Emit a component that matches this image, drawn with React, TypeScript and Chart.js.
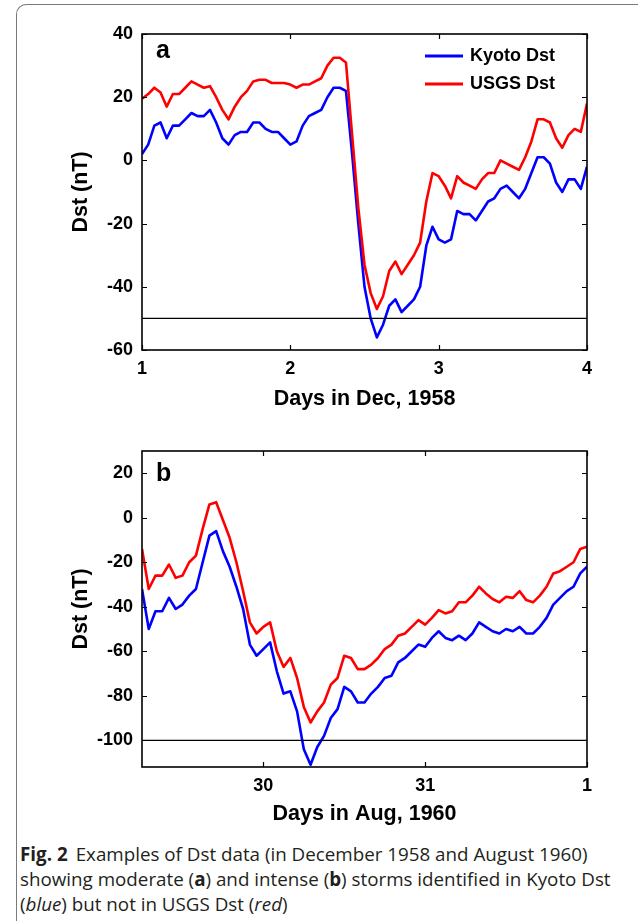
import React, { useEffect, useRef } from 'react';
import { Chart, registerables } from 'chart.js';

Chart.register(...registerables);

const FONT = '"Liberation Sans", Arial, Helvetica, sans-serif';

// ---------- Panel a: December 1958, hourly from Dec 1 00:00 to Dec 4 00:00 ----------
const decStartDay = 1;
const decKyoto = [
  2, 5, 11, 12, 7, 11, 11, 13, 15, 14, 14, 16, 12, 7, 5, 8, 9, 9, 12, 12, 10, 9, 9, 7,
  5, 6, 11, 14, 15, 16, 20, 23, 23, 22, 2, -20, -40, -50, -56, -52, -46, -44, -48, -46, -44, -40, -27, -21,
  -25, -26, -25, -16, -17, -17, -19, -16, -13, -12, -9, -8, -10, -12, -9, -4, 1, 1, -1, -7, -10, -6, -6, -9,
  -2,
];
const decUsgs = [
  19.5, 21, 23, 21.5, 17, 21, 21, 23, 25, 24, 23, 23.5, 20, 16, 13, 17, 20, 22, 25, 25.5, 25.5, 24.5, 24.5, 24.5,
  24, 23, 24, 24, 25, 26, 30, 32.5, 32.5, 31, 8, -15, -33, -42, -47, -43, -35, -32, -36, -33, -30, -26, -13, -4,
  -5, -8, -12, -5, -7, -8, -9, -6, -4, -4, 0, -1, -2, -3, 1, 6, 13, 13, 12, 7, 4, 8, 10, 9,
  18,
];
const decThreshold = -50;
const decXRange = [1, 4];
const decYRange = [-60, 40];
const decXTicks = [1, 2, 3, 4];
const decXTickLabels = ['1', '2', '3', '4'];
const decYTicks = [-60, -40, -20, 0, 20, 40];

// ---------- Panel b: August 1960, hourly from Aug 29 06:00 to Sep 1 00:00 ----------
const augStartDay = 29.25;
const augKyoto = [
  -32, -50, -42, -42, -36, -41, -39, -35, -32, -20, -8, -6, -15, -22, -31, -41, -57, -62, -59, -56, -69, -79, -78, -87,
  -104, -111, -103, -98, -90, -86, -76, -78, -83, -83, -79, -76, -72, -71, -65, -63, -60, -57, -58, -54, -51, -54, -55, -53,
  -55, -52, -47, -49, -51, -52, -50, -51, -49, -52, -52, -49, -45, -39, -36, -33, -31, -25, -22,
];
const augUsgs = [
  -14, -32, -26, -26, -21, -27, -26, -20, -17, -5, 6, 7, -1, -9, -20, -33, -47, -52, -49, -47, -60, -67, -63, -72,
  -85, -92, -87, -83, -75, -72, -62, -63, -68, -68, -66, -63, -59, -57, -53, -52, -49, -46, -48, -45, -41.5, -43, -42, -38,
  -38, -35, -31, -34, -36.5, -38, -35.5, -36, -33, -37, -38, -35, -31, -25, -24, -22, -20, -14, -13,
];
const augThreshold = -100;
const augXRange = [29.25, 32];
const augYRange = [-112, 30];
const augXTicks = [30, 31, 32];
const augXTickLabels = ['30', '31', '1'];
const augYTicks = [-100, -80, -60, -40, -20, 0, 20];

const seriesNames = ['Kyoto Dst', 'USGS Dst'];
const seriesColors = ['#0000ff', '#ff0000'];

type PanelSpec = {
  startDay: number;
  kyoto: number[];
  usgs: number[];
  threshold: number;
  xRange: number[];
  yRange: number[];
  xTicks: number[];
  xTickLabels: string[];
  yTicks: number[];
  xTitle: string;
  letter: string;
  letterDy: number;
  legend: boolean;
  top: number;
  height: number;
  padTop: number;
  plotBottom: number;
  xTitlePadBottom: number;
};

const framePlugin = {
  id: 'matlabFrame',
  afterDatasetsDraw(chart: any, _args: any, opts: any) {
    const { ctx, chartArea: ca, scales } = chart;
    const xs = scales.x;
    const ys = scales.y;
    ctx.save();
    ctx.strokeStyle = '#000';
    ctx.lineWidth = 1.6;
    ctx.strokeRect(ca.left, ca.top, ca.right - ca.left, ca.bottom - ca.top);
    ctx.lineWidth = 1.2;
    const tl = 5;
    ctx.beginPath();
    for (const t of xs.ticks) {
      const px = Math.round(xs.getPixelForValue(t.value)) + 0.5;
      ctx.moveTo(px, ca.bottom);
      ctx.lineTo(px, ca.bottom - tl);
      ctx.moveTo(px, ca.top);
      ctx.lineTo(px, ca.top + tl);
    }
    for (const t of ys.ticks) {
      const py = Math.round(ys.getPixelForValue(t.value)) + 0.5;
      ctx.moveTo(ca.left, py);
      ctx.lineTo(ca.left + tl, py);
      ctx.moveTo(ca.right, py);
      ctx.lineTo(ca.right - tl, py);
    }
    ctx.stroke();

    ctx.fillStyle = '#000';
    ctx.textAlign = 'left';
    ctx.textBaseline = 'alphabetic';
    ctx.font = `bold 25px ${FONT}`;
    ctx.fillText(opts.letter, ca.left + 14, ca.top + opts.letterDy);

    if (opts.legend) {
      ctx.font = `bold 18px ${FONT}`;
      ctx.textBaseline = 'middle';
      let row = 0;
      chart.data.datasets.forEach((ds: any) => {
        if (!ds.label) return;
        const y = ca.top + 22 + row * 28;
        ctx.strokeStyle = ds.borderColor;
        ctx.lineWidth = 3;
        ctx.beginPath();
        ctx.moveTo(ca.right - 162, y);
        ctx.lineTo(ca.right - 124, y);
        ctx.stroke();
        ctx.fillStyle = '#000';
        ctx.fillText(ds.label, ca.right - 117, y);
        row++;
      });
    }
    ctx.restore();
  },
};

function makeConfig(spec: PanelSpec): any {
  const toPoints = (arr: number[]) => arr.map((v, i) => ({ x: spec.startDay + i / 24, y: v }));
  const tickFont = { family: FONT, size: 18, weight: 'bold' as const };
  const titleFont = { family: FONT, size: 21.5, weight: 'bold' as const };
  return {
    type: 'line',
    data: {
      datasets: [
        {
          label: seriesNames[0],
          data: toPoints(spec.kyoto),
          borderColor: seriesColors[0],
          borderWidth: 2.6,
          pointRadius: 0,
          tension: 0,
          borderJoinStyle: 'round',
          order: 3,
        },
        {
          label: seriesNames[1],
          data: toPoints(spec.usgs),
          borderColor: seriesColors[1],
          borderWidth: 2.6,
          pointRadius: 0,
          tension: 0,
          borderJoinStyle: 'round',
          order: 2,
        },
        {
          label: '',
          data: [
            { x: spec.xRange[0], y: spec.threshold },
            { x: spec.xRange[1], y: spec.threshold },
          ],
          borderColor: '#000',
          borderWidth: 1.2,
          pointRadius: 0,
          order: 1,
        },
      ],
    },
    options: {
      responsive: false,
      animation: false,
      events: [],
      layout: { padding: { top: spec.padTop, right: 51, bottom: 0, left: 0 } },
      plugins: {
        legend: { display: false },
        tooltip: { enabled: false },
        matlabFrame: { letter: spec.letter, letterDy: spec.letterDy, legend: spec.legend },
      },
      scales: {
        x: {
          type: 'linear',
          min: spec.xRange[0],
          max: spec.xRange[1],
          grid: { display: false, drawTicks: false },
          border: { display: false },
          afterBuildTicks: (s: any) => {
            s.ticks = spec.xTicks.map((v) => ({ value: v }));
          },
          afterFit: (s: any) => {
            s.height = spec.height - spec.plotBottom;
          },
          ticks: {
            padding: 8,
            color: '#000',
            font: tickFont,
            maxRotation: 0,
            autoSkip: false,
            callback: (v: any) => {
              const i = spec.xTicks.indexOf(Number(v));
              return i >= 0 ? spec.xTickLabels[i] : '';
            },
          },
          title: {
            display: true,
            text: spec.xTitle,
            color: '#000',
            font: titleFont,
            padding: { top: 0, bottom: spec.xTitlePadBottom },
          },
        },
        y: {
          type: 'linear',
          min: spec.yRange[0],
          max: spec.yRange[1],
          grid: { display: false, drawTicks: false },
          border: { display: false },
          afterBuildTicks: (s: any) => {
            s.ticks = spec.yTicks.map((v) => ({ value: v }));
          },
          afterFit: (s: any) => {
            s.width = 142;
          },
          ticks: {
            padding: 9,
            color: '#000',
            font: tickFont,
            autoSkip: false,
            callback: (v: any) => String(v),
          },
          title: {
            display: true,
            text: 'Dst (nT)',
            color: '#000',
            font: titleFont,
            padding: { top: 68, bottom: 0 },
          },
        },
      },
    },
    plugins: [framePlugin],
  };
}

const panelA: PanelSpec = {
  startDay: decStartDay,
  kyoto: decKyoto,
  usgs: decUsgs,
  threshold: decThreshold,
  xRange: decXRange,
  yRange: decYRange,
  xTicks: decXTicks,
  xTickLabels: decXTickLabels,
  yTicks: decYTicks,
  xTitle: 'Days in Dec, 1958',
  letter: 'a',
  letterDy: 24,
  legend: true,
  top: 0,
  height: 425,
  padTop: 34,
  plotBottom: 350,
  xTitlePadBottom: 13,
};

const panelB: PanelSpec = {
  startDay: augStartDay,
  kyoto: augKyoto,
  usgs: augUsgs,
  threshold: augThreshold,
  xRange: augXRange,
  yRange: augYRange,
  xTicks: augXTicks,
  xTickLabels: augXTickLabels,
  yTicks: augYTicks,
  xTitle: 'Days in Aug, 1960',
  letter: 'b',
  letterDy: 30,
  legend: false,
  top: 425,
  height: 405,
  padTop: 26,
  plotBottom: 342,
  xTitlePadBottom: 3,
};

function Panel({ spec }: { spec: PanelSpec }) {
  const ref = useRef<HTMLCanvasElement>(null);
  useEffect(() => {
    const chart = new Chart(ref.current as HTMLCanvasElement, makeConfig(spec));
    return () => chart.destroy();
  }, [spec]);
  return (
    <canvas
      ref={ref}
      width={638}
      height={spec.height}
      style={{ position: 'absolute', left: 0, top: spec.top, width: 638, height: spec.height }}
    />
  );
}

export default function App() {
  return (
    <div
      style={{
        position: 'absolute',
        left: 0,
        top: 0,
        width: 638,
        height: 921,
        overflow: 'hidden',
        background: '#fff',
      }}
    >
      <div
        style={{
          position: 'absolute',
          left: 16,
          top: 4,
          width: 700,
          height: 1000,
          borderLeft: '1px solid #7a7a7a',
          borderTop: '1px solid #7a7a7a',
          borderTopLeftRadius: 10,
        }}
      />
      <Panel spec={panelA} />
      <Panel spec={panelB} />
      <div
        style={{
          position: 'absolute',
          left: 20,
          top: 842,
          whiteSpace: 'nowrap',
          fontFamily: '"Open Sans", "Noto Sans", sans-serif',
          fontSize: 18.8,
          lineHeight: '25px',
          color: '#231f20',
        }}
      >
        <div>
          <b style={{ marginRight: 8 }}>Fig. 2</b>Examples of Dst data (in December 1958 and August 1960)
        </div>
        <div>
          showing moderate (<b>a</b>) and intense (<b>b</b>) storms identified in Kyoto Dst
        </div>
        <div>
          (<i>blue</i>) but not in USGS Dst (<i>red</i>)
        </div>
      </div>
    </div>
  );
}
